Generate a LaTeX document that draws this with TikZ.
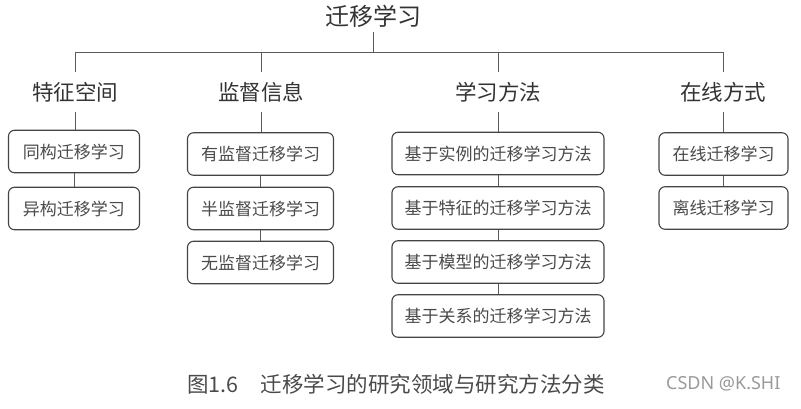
\documentclass[tikz,border=0pt]{standalone}
\usepackage{fontspec}
\setmainfont{Noto Sans}
\newfontfamily\cjk{Noto Sans CJK SC}
\newfontfamily\latinsans{Noto Sans}
\definecolor{txt}{HTML}{333333}
\definecolor{leaftxt}{HTML}{4A4A4A}
\definecolor{ln}{HTML}{5A5A5A}
\definecolor{bx}{HTML}{444444}
\definecolor{cap}{HTML}{4A4A4A}
\definecolor{wm}{HTML}{9A9A9A}
\tikzset{
  rootlbl/.style={font=\cjk\fontsize{24}{26}\selectfont, text=txt, inner sep=0pt, minimum height=32pt},
  catlbl/.style={font=\cjk\fontsize{21.5}{24}\selectfont, text=txt, inner sep=0pt, minimum height=40pt},
  leaf/.style={draw=bx, line width=1.1pt, rounded corners=6pt, font=\cjk\fontsize{17}{19}\selectfont, text=leaftxt, inner sep=0pt, minimum height=42.5pt},
  conn/.style={draw=ln, line width=0.9pt},
}
\begin{document}
\begin{tikzpicture}[x=1pt,y=-1pt]
\useasboundingbox[fill=white] (0,0) rectangle (801,408);

\node[rootlbl] (root) at (373,16) {迁移学习};
\coordinate (hub) at (373,52);

\node[catlbl] (c1) at (75,92) {特征空间};
\node[catlbl] (c2) at (261,92) {监督信息};
\node[catlbl] (c3) at (498,92) {学习方法};
\node[catlbl] (c4) at (723,92) {在线方式};

% column 1
\node[leaf, minimum width=131pt] (a1) at (74,151.5) {同构迁移学习};
\node[leaf, minimum width=131pt] (a2) at (74,208.5) {异构迁移学习};
% column 2
\node[leaf, minimum width=146pt] (b1) at (260.5,154) {有监督迁移学习};
\node[leaf, minimum width=146pt] (b2) at (260.5,208.5) {半监督迁移学习};
\node[leaf, minimum width=146pt] (b3) at (260.5,262.5) {无监督迁移学习};
% column 3
\node[leaf, minimum width=212pt] (m1) at (498,153.5) {基于实例的迁移学习方法};
\node[leaf, minimum width=212pt] (m2) at (498,208) {基于特征的迁移学习方法};
\node[leaf, minimum width=212pt] (m3) at (498,262) {基于模型的迁移学习方法};
\node[leaf, minimum width=212pt] (m4) at (498,316) {基于关系的迁移学习方法};
% column 4
\node[leaf, minimum width=129pt] (d1) at (723.5,154) {在线迁移学习};
\node[leaf, minimum width=129pt] (d2) at (723.5,208) {离线迁移学习};

% tree connectors
\draw[conn] (root.south) -- (hub);
\draw[conn] (c1.north) -- (c1.north |- hub) -- (c4.north |- hub) -- (c4.north);
\draw[conn] (c2.north) -- (c2.north |- hub);
\draw[conn] (c3.north) -- (c3.north |- hub);

\draw[conn] (c1.south) -- (c1.south |- a1.north);
\draw[conn] (a1) -- (a2);
\draw[conn] (c2.south) -- (c2.south |- b1.north);
\draw[conn] (b1) -- (b2);
\draw[conn] (b2) -- (b3);
\draw[conn] (c3.south) -- (m1.north);
\draw[conn] (m1) -- (m2);
\draw[conn] (m2) -- (m3);
\draw[conn] (m3) -- (m4);
\draw[conn] (c4.south) -- (c4.south |- d1.north);
\draw[conn] (d1) -- (d2);

% caption
\node[anchor=west, inner sep=0pt, text=cap, font=\cjk\fontsize{21.5}{24}\selectfont] (capt) at (187,384) {图1.6\hspace{22pt}迁移学习的研究领域与研究方法分类};
\node[anchor=west, inner sep=0pt, text=wm, font=\latinsans\fontsize{18}{20}\selectfont] (wmk) at (666,384) {CSDN @K.SHI};
\end{tikzpicture}
\end{document}
